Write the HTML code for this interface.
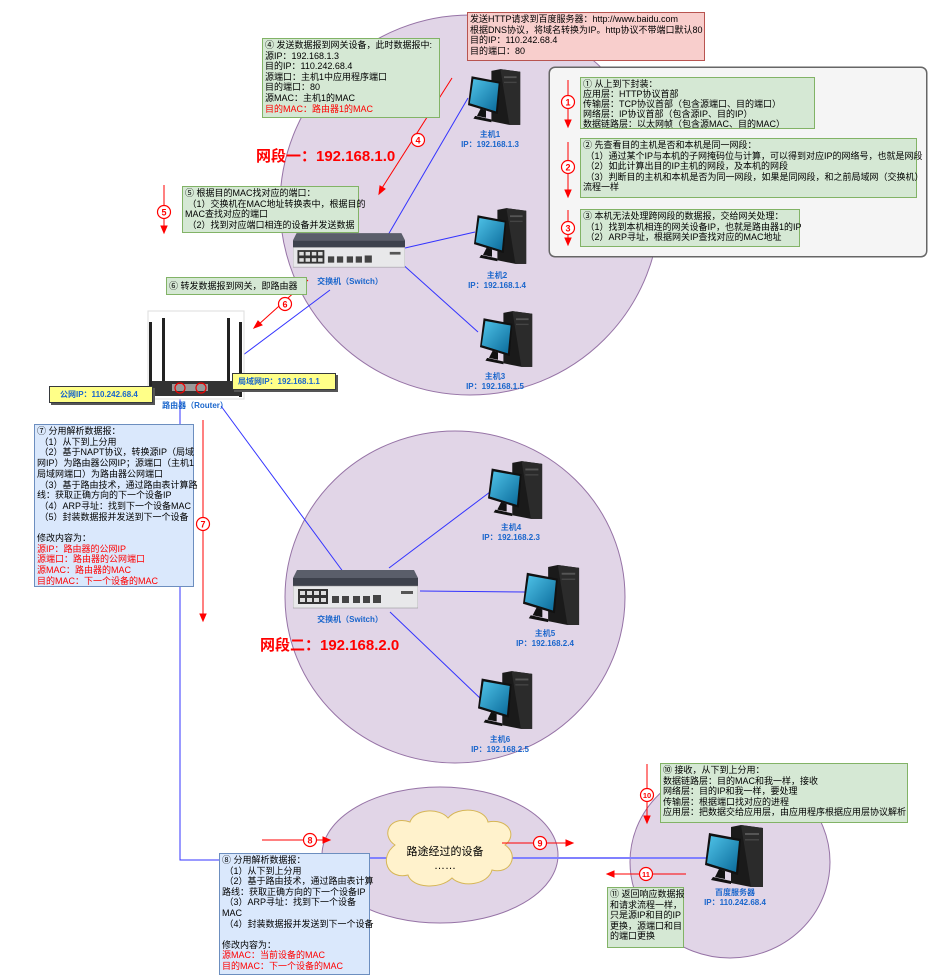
<!DOCTYPE html>
<html><head><meta charset="utf-8">
<style>
*{margin:0;padding:0;box-sizing:border-box}
body{width:931px;height:978px;background:#fff;position:relative;overflow:hidden;font-family:"Liberation Sans","Noto Sans CJK SC",sans-serif;}
svg{position:absolute;left:0;top:0}
.b{position:absolute;font-size:9px;line-height:10.6px;color:#000;white-space:nowrap;padding:1px 2px}
.g{background:#d5e8d4;border:1px solid #82b366}
.bl{background:#dae8fc;border:1px solid #6c8ebf}
.r{color:#ff0000}
.t{position:absolute;font-size:8px;color:#1a66cc;font-weight:bold;white-space:nowrap;text-align:center}
.big{position:absolute;color:#ff0000;font-weight:bold;font-size:15px;white-space:nowrap}
.y{position:absolute;background:#ffff88;border:1px solid #36393d;font-size:8px;font-weight:bold;color:#1a66cc;padding:3px 6px;white-space:nowrap;box-shadow:2px 2px 0 #555}
</style></head><body>
<svg width="931" height="978" viewBox="0 0 931 978">
<defs>
<linearGradient id="scr" x1="0" y1="0" x2="1" y2="1"><stop offset="0" stop-color="#4fc3e8"/><stop offset="1" stop-color="#0a6a9a"/></linearGradient>
<symbol id="pc" viewBox="0 0 60 62">
<polygon points="26,2 36,0 58,3 58,62 46,62 26,58" fill="#1a1a1a"/>
<polygon points="36,0 58,3 58,62 46,62" fill="#2b2b2b"/>
<rect x="40" y="8" width="14" height="2" fill="#555"/>
<rect x="40" y="14" width="14" height="1.5" fill="#444"/>
<polygon points="4,8 36,14 33,50 0,40" fill="#111"/>
<polygon points="6,11 34,16 31,47 2,38" fill="url(#scr)"/>
<polygon points="14,44 20,46 20,54 10,52" fill="#111"/>
<polygon points="8,52 26,56 26,59 6,55" fill="#111"/>
</symbol>
<symbol id="sw" viewBox="0 0 125 40">
<polygon points="4,0 121,0 125,8 0,8" fill="#5a5e6a"/>
<rect x="0" y="8" width="125" height="8" fill="#3d414c"/>
<rect x="0" y="16" width="125" height="22" fill="#e8e8ea" stroke="#888" stroke-width=".5"/>
<g fill="#333"><rect x="5" y="19" width="30" height="15"/></g>
<g fill="#ddd"><rect x="7" y="21" width="5" height="4"/><rect x="14" y="21" width="5" height="4"/><rect x="21" y="21" width="5" height="4"/><rect x="28" y="21" width="5" height="4"/><rect x="7" y="28" width="5" height="4"/><rect x="14" y="28" width="5" height="4"/><rect x="21" y="28" width="5" height="4"/><rect x="28" y="28" width="5" height="4"/></g>
<g fill="#444"><rect x="39" y="26" width="7" height="7"/><rect x="49" y="26" width="7" height="7"/><rect x="60" y="26" width="7" height="7"/><rect x="70" y="26" width="7" height="7"/><rect x="80" y="25" width="8" height="8"/></g>
<rect x="108" y="21" width="12" height="3" fill="#555"/>
</symbol>
</defs>
<!-- ellipses -->
<ellipse cx="470" cy="205" rx="190" ry="190" fill="#e1d5e7" stroke="#9673a6" stroke-width="1"/>
<ellipse cx="455" cy="597" rx="170" ry="166" fill="#e1d5e7" stroke="#9673a6" stroke-width="1"/>
<ellipse cx="440" cy="855" rx="118" ry="68" fill="#e1d5e7" stroke="#9673a6" stroke-width="1"/>
<ellipse cx="730" cy="862" rx="100" ry="96" fill="#e1d5e7" stroke="#9673a6" stroke-width="1"/>
<!-- blue lines -->
<g stroke="#3333ff" stroke-width="1" fill="none">
<line x1="468" y1="98" x2="388" y2="235"/>
<line x1="405" y1="248" x2="475" y2="232"/>
<line x1="400" y1="262" x2="478" y2="332"/>
<line x1="330" y1="290" x2="203" y2="385"/>
<line x1="221" y1="406" x2="344" y2="573"/>
<polyline points="180,394 180,860 222,860"/>
<line x1="370" y1="858" x2="706" y2="858" stroke="#8080ff" stroke-width="2"/>
<line x1="389" y1="568" x2="490" y2="492"/>
<line x1="420" y1="591" x2="525" y2="592"/>
<line x1="390" y1="612" x2="482" y2="700"/>
</g>
<!-- devices -->
<use href="#pc" x="468" y="68" width="54" height="58"/>
<use href="#pc" x="474" y="207" width="54" height="58"/>
<use href="#pc" x="480" y="310" width="54" height="58"/>
<use href="#pc" x="488" y="460" width="56" height="60"/>
<use href="#pc" x="523" y="565" width="58" height="60"/>
<use href="#pc" x="478" y="670" width="56" height="60"/>
<use href="#pc" x="703" y="825" width="64" height="62"/>
<use href="#sw" x="293" y="232" width="112" height="38"/>
<use href="#sw" x="293" y="570" width="125" height="40"/>
<!-- router -->
<rect x="148" y="311" width="96" height="88" fill="#fff" stroke="#ddd"/>
<g fill="#222"><rect x="149" y="322" width="3" height="75"/><rect x="162" y="318" width="3" height="78"/><rect x="227" y="318" width="3" height="78"/><rect x="239" y="322" width="3" height="75"/></g>
<rect x="152" y="381" width="88" height="15" fill="#333"/>
<rect x="172" y="384" width="36" height="7" fill="#999"/>
<circle cx="180" cy="388" r="5" fill="none" stroke="#e00" stroke-width="1.2"/>
<circle cx="201" cy="388" r="5" fill="none" stroke="#e00" stroke-width="1.2"/>
<!-- cloud -->
<path d="M395,845 C380,835 390,815 410,822 C415,808 440,808 448,818 C458,806 485,808 488,822 C508,818 518,835 505,845 C520,855 510,875 492,870 C488,885 462,888 452,878 C440,890 412,888 408,875 C388,880 378,858 395,845 Z" fill="#fff2cc" stroke="#d6b656" stroke-width="1"/>
<!-- red arrows -->
<g stroke="#ff0000" stroke-width="1" fill="#ff0000">
<line x1="568" y1="80" x2="568" y2="122"/><polygon points="565,120 571,120 568,127"/>
<line x1="568" y1="142" x2="568" y2="192"/><polygon points="565,190 571,190 568,197"/>
<line x1="568" y1="210" x2="568" y2="240"/><polygon points="565,238 571,238 568,245"/>
<line x1="452" y1="78" x2="382" y2="188"/><polygon points="379,194 380,186 385,189"/>
<line x1="164" y1="185" x2="164" y2="228"/><polygon points="161,226 167,226 164,233"/>
<line x1="308" y1="280" x2="258" y2="325"/><polygon points="254,328 258,321 262,325"/>
<line x1="203" y1="420" x2="203" y2="616"/><polygon points="200,614 206,614 203,621"/>
<line x1="262" y1="840" x2="325" y2="840"/><polygon points="323,837 323,843 330,840"/>
<line x1="502" y1="843" x2="568" y2="843"/><polygon points="566,840 566,846 573,843"/>
<line x1="647" y1="764" x2="647" y2="818"/><polygon points="644,816 650,816 647,823"/>
<line x1="686" y1="874" x2="612" y2="874"/><polygon points="614,871 614,877 607,874"/>
</g>
<g fill="#fff" stroke="#ff0000" stroke-width="1.2">
<circle cx="568" cy="102" r="6.5"/><circle cx="568" cy="167" r="6.5"/><circle cx="568" cy="228" r="6.5"/>
<circle cx="418" cy="140" r="6.5"/><circle cx="164" cy="212" r="6.5"/><circle cx="285" cy="304" r="6.5"/>
<circle cx="203" cy="524" r="6.5"/><circle cx="310" cy="840" r="6.5"/><circle cx="540" cy="843" r="6.5"/>
<circle cx="647" cy="795" r="6.5"/><circle cx="646" cy="874" r="6.5"/>
</g>
<g fill="#ff0000" font-size="9" font-weight="bold" text-anchor="middle" font-family="Liberation Sans,sans-serif">
<text x="568" y="105.5">1</text><text x="568" y="170.5">2</text><text x="568" y="231.5">3</text>
<text x="418" y="143.5">4</text><text x="164" y="215.5">5</text><text x="285" y="307.5">6</text>
<text x="203" y="527.5">7</text><text x="310" y="843.5">8</text><text x="540" y="846.5">9</text>
<text x="647" y="798" font-size="7.5">10</text><text x="646" y="877" font-size="7.5">11</text>
</g>
<rect x="549" y="67" width="378" height="190" rx="6" fill="none" stroke="#666"/>
</svg>

<!-- gray box background placed under subboxes -->
<div style="position:absolute;left:549px;top:67px;width:378px;height:190px;background:#f5f5f5;border:1px solid #666;border-radius:6px;z-index:-0"></div>
<svg width="931" height="978" style="pointer-events:none">
<g stroke="#ff0000" stroke-width="1" fill="#ff0000">
<line x1="568" y1="80" x2="568" y2="122"/><polygon points="565,120 571,120 568,127"/>
<line x1="568" y1="142" x2="568" y2="192"/><polygon points="565,190 571,190 568,197"/>
<line x1="568" y1="210" x2="568" y2="240"/><polygon points="565,238 571,238 568,245"/>
</g>
<g fill="#fff" stroke="#ff0000" stroke-width="1.2"><circle cx="568" cy="102" r="6.5"/><circle cx="568" cy="167" r="6.5"/><circle cx="568" cy="228" r="6.5"/></g>
<g fill="#ff0000" font-size="9" font-weight="bold" text-anchor="middle" font-family="Liberation Sans,sans-serif"><text x="568" y="105.5">1</text><text x="568" y="170.5">2</text><text x="568" y="231.5">3</text></g>
</svg>

<div class="b" style="left:467px;top:12px;width:238px;height:49px;background:#f8cecc;border:1px solid #b85450;">发送HTTP请求到百度服务器：http://www.baidu.com<br>根据DNS协议，将域名转换为IP。http协议不带端口默认80<br>目的IP：110.242.68.4<br>目的端口：80</div>
<div class="b g" style="left:262px;top:38px;width:178px;height:80px;">④ 发送数据报到网关设备，此时数据报中:<br>源IP：192.168.1.3<br>目的IP：110.242.68.4<br>源端口：主机1中应用程序端口<br>目的端口：80<br>源MAC：主机1的MAC<br><span class="r">目的MAC：路由器1的MAC</span></div>
<div class="b g" style="left:580px;top:77px;width:235px;height:52px;line-height:10px">① 从上到下封装：<br>应用层：HTTP协议首部<br>传输层：TCP协议首部（包含源端口、目的端口）<br>网络层：IP协议首部（包含源IP、目的IP）<br>数据链路层：以太网帧（包含源MAC、目的MAC）</div>
<div class="b g" style="left:580px;top:138px;width:337px;height:60px;line-height:10.5px">② 先查看目的主机是否和本机是同一网段：<br>&nbsp;（1）通过某个IP与本机的子网掩码位与计算，可以得到对应IP的网络号，也就是网段<br>&nbsp;（2）如此计算出目的IP主机的网段，及本机的网段<br>&nbsp;（3）判断目的主机和本机是否为同一网段，如果是同网段，和之前局域网（交换机）<br>流程一样</div>
<div class="b g" style="left:580px;top:209px;width:220px;height:38px;line-height:10.5px">③ 本机无法处理跨网段的数据报，交给网关处理：<br>&nbsp;（1）找到本机相连的网关设备IP，也就是路由器1的IP<br>&nbsp;（2）ARP寻址，根据网关IP查找对应的MAC地址</div>
<div class="big" style="left:256px;top:145px">网段一：192.168.1.0</div>
<div class="big" style="left:260px;top:634px">网段二：192.168.2.0</div>
<div class="b g" style="left:182px;top:186px;width:177px;height:47px;">⑤ 根据目的MAC找对应的端口：<br>&nbsp;（1）交换机在MAC地址转换表中，根据目的<br>MAC查找对应的端口<br>&nbsp;（2）找到对应端口相连的设备并发送数据</div>
<div class="b g" style="left:166px;top:277px;width:141px;height:18px;line-height:14px">⑥ 转发数据报到网关，即路由器</div>
<div class="t" style="left:300px;top:276px;width:100px">交换机（Switch）</div>
<div class="t" style="left:300px;top:614px;width:100px">交换机（Switch）</div>
<div class="t" style="left:445px;top:130px;width:90px;line-height:10px">主机1<br>IP：192.168.1.3</div>
<div class="t" style="left:452px;top:271px;width:90px;line-height:10px">主机2<br>IP：192.168.1.4</div>
<div class="t" style="left:450px;top:372px;width:90px;line-height:10px">主机3<br>IP：192.168.1.5</div>
<div class="t" style="left:466px;top:523px;width:90px;line-height:10px">主机4<br>IP：192.168.2.3</div>
<div class="t" style="left:500px;top:629px;width:90px;line-height:10px">主机5<br>IP：192.168.2.4</div>
<div class="t" style="left:455px;top:735px;width:90px;line-height:10px">主机6<br>IP：192.168.2.5</div>
<div class="t" style="left:690px;top:888px;width:90px;line-height:10px">百度服务器<br>IP：110.242.68.4</div>
<div class="t" style="left:150px;top:400px;width:90px">路由器（Router）</div>
<div class="y" style="left:49px;top:386px;width:104px;height:17px;padding:2px 10px">公网IP：110.242.68.4</div>
<div class="y" style="left:232px;top:373px;width:104px;height:17px;padding:2px 5px">局域网IP：192.168.1.1</div>
<div class="b bl" style="left:34px;top:424px;width:160px;height:163px;line-height:10.7px">⑦ 分用解析数据报：<br>&nbsp;（1）从下到上分用<br>&nbsp;（2）基于NAPT协议，转换源IP（局域<br>网IP）为路由器公网IP；源端口（主机1<br>局域网端口）为路由器公网端口<br>&nbsp;（3）基于路由技术，通过路由表计算路<br>线：获取正确方向的下一个设备IP<br>&nbsp;（4）ARP寻址：找到下一个设备MAC<br>&nbsp;（5）封装数据报并发送到下一个设备<br><br>修改内容为：<br><span class="r">源IP：路由器的公网IP<br>源端口：路由器的公网端口<br>源MAC：路由器的MAC<br>目的MAC：下一个设备的MAC</span></div>
<div class="b bl" style="left:219px;top:853px;width:151px;height:122px;line-height:10.6px">⑧ 分用解析数据报：<br>&nbsp;（1）从下到上分用<br>&nbsp;（2）基于路由技术，通过路由表计算<br>路线：获取正确方向的下一个设备IP<br>&nbsp;（3）ARP寻址：找到下一个设备<br>MAC<br>&nbsp;（4）封装数据报并发送到下一个设备<br><br>修改内容为：<br><span class="r">源MAC：当前设备的MAC<br>目的MAC：下一个设备的MAC</span></div>
<div style="position:absolute;left:395px;top:845px;width:100px;text-align:center;font-size:11px;line-height:14px">路途经过的设备<br>……</div>
<div class="b g" style="left:660px;top:763px;width:248px;height:60px;line-height:10.5px">⑩ 接收，从下到上分用：<br>数据链路层：目的MAC和我一样，接收<br>网络层：目的IP和我一样，要处理<br>传输层：根据端口找对应的进程<br>应用层：把数据交给应用层，由应用程序根据应用层协议解析</div>
<div class="b g" style="left:607px;top:887px;width:77px;height:61px;line-height:10.5px">⑪ 返回响应数据报<br>和请求流程一样，<br>只是源IP和目的IP<br>更换，源端口和目<br>的端口更换</div>
</body></html>
